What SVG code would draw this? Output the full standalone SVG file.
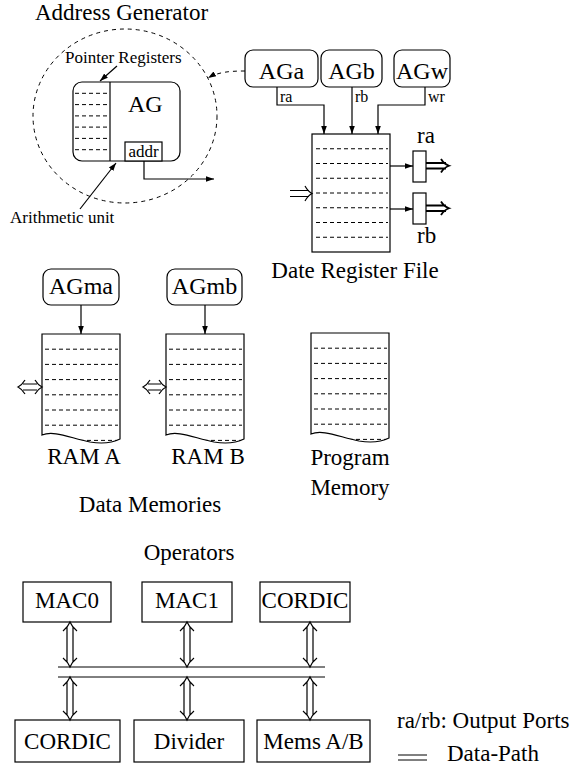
<svg xmlns="http://www.w3.org/2000/svg" xmlns:xlink="http://www.w3.org/1999/xlink" width="576" height="766" viewBox="0 0 576 766">
<style>
.t{font-family:"Liberation Serif","Times New Roman",serif;fill:#000}
.c{text-anchor:middle}
.bx{fill:#fff;stroke:#000;stroke-width:1.2}
.ln{fill:none;stroke:#000;stroke-width:1.2}
.dl{fill:none;stroke:#000;stroke-width:1;stroke-dasharray:4 3}
.dc{fill:none;stroke:#000;stroke-width:1;stroke-dasharray:4 4}
.bus{fill:none;stroke:#000;stroke-width:1}
.thk{fill:none;stroke:#000;stroke-width:1.8}
</style>
<defs>
<marker id="ah" viewBox="0 0 10 10" refX="10" refY="5" markerWidth="8" markerHeight="8" markerUnits="userSpaceOnUse" orient="auto"><path d="M0,1.5 L10,5 L0,8.5 z" fill="#000"/></marker>
<clipPath id="memclip" clipPathUnits="userSpaceOnUse"><path d="M0,101 V0 H78 V105 C70,109 60,110 48,108 C28,104 12,96 0,101 Z"/></clipPath>
<g id="mem">
<path class="bx" d="M0,101 V0 H78 V105 C70,109 60,110 48,108 C28,104 12,96 0,101 Z"/>
<g clip-path="url(#memclip)">
<path class="dl" d="M3,15.2 H76 M3,30.4 H76 M3,45.6 H76 M3,60.8 H76 M3,76 H76 M3,91.2 H76 M3,106.4 H76"/>
</g>
</g>
</defs>

<text class="t" x="35" y="20" font-size="23">Address Generator</text>

<g id="address-generator">
<ellipse class="dc" cx="125" cy="116" rx="92" ry="87"/>
<rect class="bx" x="73" y="82" width="107" height="79" rx="9"/>
<line class="ln" x1="110" y1="82" x2="110" y2="161"/>
<path class="dl" d="M75,93.3 H109 M75,104.6 H109 M75,115.9 H109 M75,127.1 H109 M75,138.4 H109 M75,149.7 H109"/>
<text class="t" x="128" y="112" font-size="24">AG</text>
<rect class="bx" x="125" y="142" width="37" height="19"/>
<text class="t c" x="143.5" y="157" font-size="17">addr</text>
<text class="t" x="65" y="63" font-size="17">Pointer Registers</text>
<text class="t" x="10" y="223" font-size="17">Arithmetic unit</text>
</g>

<g id="AGa"><rect class="bx" x="245" y="50" width="73" height="37" rx="8"/><text class="t c" x="281.5" y="79" font-size="24">AGa</text></g>
<g id="AGb"><rect class="bx" x="321" y="50" width="61" height="37" rx="8"/><text class="t c" x="351.5" y="79" font-size="24">AGb</text></g>
<g id="AGw"><rect class="bx" x="394" y="50" width="56" height="37" rx="8"/><text class="t c" x="422" y="79" font-size="24">AGw</text></g>

<g id="register-file">
<rect class="bx" x="312" y="134" width="78" height="118"/>
<path class="dl" d="M316,148.75 H388 M316,163.5 H388 M316,178.25 H388 M316,193 H388 M316,207.75 H388 M316,222.5 H388 M316,237.25 H388"/>
<text class="t c" x="355" y="278" font-size="23">Date Register File</text>
</g>
<g id="port-ra"><rect class="bx" x="413" y="151" width="13" height="31"/><text class="t" x="417" y="143" font-size="23">ra</text></g>
<g id="port-rb"><rect class="bx" x="413" y="193" width="13" height="31"/><text class="t" x="417" y="243" font-size="23">rb</text></g>

<g id="AGma"><rect class="bx" x="43" y="269" width="76" height="36" rx="8"/><text class="t c" x="81" y="294" font-size="24">AGma</text></g>
<g id="AGmb"><rect class="bx" x="167" y="269" width="75" height="36" rx="8"/><text class="t c" x="204.5" y="294" font-size="24">AGmb</text></g>

<g id="ram-a"><use xlink:href="#mem" href="#mem" transform="translate(42,334)"/><text class="t c" x="84" y="464" font-size="23">RAM A</text></g>
<g id="ram-b"><use xlink:href="#mem" href="#mem" transform="translate(166,334)"/><text class="t c" x="208" y="464" font-size="23">RAM B</text></g>
<text class="t c" x="150" y="512" font-size="23">Data Memories</text>
<g id="program-memory"><use xlink:href="#mem" href="#mem" transform="translate(311,333)"/><text class="t c" x="350" y="465" font-size="23">Program</text><text class="t c" x="350" y="495" font-size="23">Memory</text></g>

<text class="t c" x="189" y="560" font-size="23">Operators</text>
<g id="MAC0"><rect class="bx" x="23" y="582" width="88" height="40"/><text class="t c" x="67" y="608" font-size="23">MAC0</text></g>
<g id="MAC1"><rect class="bx" x="142" y="582" width="90" height="40"/><text class="t c" x="187" y="608" font-size="23">MAC1</text></g>
<g id="CORDIC-top"><rect class="bx" x="260" y="582" width="90" height="40"/><text class="t c" x="305" y="608" font-size="23">CORDIC</text></g>
<g id="CORDIC-bottom"><rect class="bx" x="15" y="720" width="105" height="42"/><text class="t c" x="67.5" y="749" font-size="23">CORDIC</text></g>
<g id="Divider"><rect class="bx" x="134" y="720" width="110" height="42"/><text class="t c" x="189" y="749" font-size="23">Divider</text></g>
<g id="MemsAB"><rect class="bx" x="257" y="720" width="113" height="42"/><text class="t c" x="313.5" y="749" font-size="23">Mems A/B</text></g>

<g id="legend">
<text class="t" x="397" y="728" font-size="23">ra/rb: Output Ports</text>
<path class="bus" d="M398,755 H427 M398,760 H427"/>
<text class="t" x="447" y="761" font-size="23">Data-Path</text>
</g>

<g id="connectors">
<line class="ln" x1="117" y1="66" x2="100" y2="81" marker-end="url(#ah)"/>
<line class="ln" x1="80" y1="209" x2="116" y2="163" marker-end="url(#ah)"/>
<path class="ln" d="M144,161 V179 H214" marker-end="url(#ah)"/>
<path class="dc" d="M245,71 C230,71 218,72 208,78" marker-end="url(#ah)"/>
<path class="ln" d="M277,87 V105 H324 V134" marker-end="url(#ah)"/>
<path class="ln" d="M352,87 V134" marker-end="url(#ah)"/>
<path class="ln" d="M425,87 V105 H378 V134" marker-end="url(#ah)"/>
<text class="t" x="280" y="102" font-size="16">ra</text>
<text class="t" x="355" y="102" font-size="16">rb</text>
<text class="t" x="428" y="102" font-size="16">wr</text>
<path class="ln" d="M390,166 H413" marker-end="url(#ah)"/>
<path class="ln" d="M390,209 H413" marker-end="url(#ah)"/>
<path class="thk" d="M426,163 H446 M426,168.5 H446 M441,159 Q444,164 449,165.75 Q444,167.5 441,172.5"/>
<path class="thk" d="M426,205.5 H446 M426,211 H446 M441,201.5 Q444,206.5 449,208.25 Q444,210 441,215"/>
<path class="ln" d="M290,190.5 H309 M290,196.5 H309 M305,186 Q308,191.5 312,193.5 Q308,195.5 305,201"/>
<path class="ln" d="M81,305 V334" marker-end="url(#ah)"/>
<path class="ln" d="M205,305 V334" marker-end="url(#ah)"/>
<path class="ln" d="M23,384 H37 M23,390 H37 M25,380 Q22,385 18,387 Q22,389 25,394 M35,380 Q38,385 42,387 Q38,389 35,394"/>
<path class="ln" d="M148,384 H161 M148,390 H161 M150,380 Q147,385 143,387 Q147,389 150,394 M159,380 Q162,385 166,387 Q162,389 159,394"/>
<path class="bus" d="M58,667 H325 M58,677 H325"/>
<path class="ln" d="M63,631 Q68,627 70,622 Q72,627 77,631 M67,627 V662 M73,627 V662 M63,658 Q68,662 70,667 Q72,662 77,658"/>
<path class="ln" d="M180,631 Q185,627 187,622 Q189,627 194,631 M184,627 V662 M190,627 V662 M180,658 Q185,662 187,667 Q189,662 194,658"/>
<path class="ln" d="M303,631 Q308,627 310,622 Q312,627 317,631 M307,627 V662 M313,627 V662 M303,658 Q308,662 310,667 Q312,662 317,658"/>
<path class="ln" d="M63,686 Q68,682 70,677 Q72,682 77,686 M67,682 V715 M73,682 V715 M63,711 Q68,715 70,720 Q72,715 77,711"/>
<path class="ln" d="M180,686 Q185,682 187,677 Q189,682 194,686 M184,682 V715 M190,682 V715 M180,711 Q185,715 187,720 Q189,715 194,711"/>
<path class="ln" d="M303,686 Q308,682 310,677 Q312,682 317,686 M307,682 V715 M313,682 V715 M303,711 Q308,715 310,720 Q312,715 317,711"/>
</g>
</svg>
